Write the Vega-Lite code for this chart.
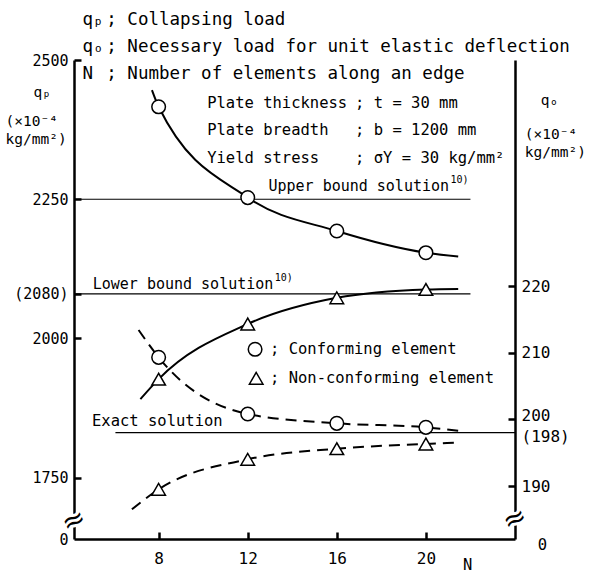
{
  "$schema": "https://vega.github.io/schema/vega-lite/v6.json",
  "width": 441,
  "height": 479,
  "autosize": "none",
  "padding": {"left": 74, "top": 60, "right": 75, "bottom": 35},
  "background": "white",
  "config": {"view": {"stroke": null}, "font": "DejaVu Sans Mono"},
  "datasets": {
    "qp": [
      {"el": "Conforming", "N": 7.7, "v": 2446},
      {"el": "Conforming", "N": 8, "v": 2416},
      {"el": "Conforming", "N": 12, "v": 2253},
      {"el": "Conforming", "N": 16, "v": 2193},
      {"el": "Conforming", "N": 20, "v": 2154},
      {"el": "Conforming", "N": 21.45, "v": 2147},
      {"el": "Non-conforming", "N": 7.18, "v": 1891},
      {"el": "Non-conforming", "N": 8, "v": 1927},
      {"el": "Non-conforming", "N": 12, "v": 2026},
      {"el": "Non-conforming", "N": 16, "v": 2073},
      {"el": "Non-conforming", "N": 20, "v": 2088},
      {"el": "Non-conforming", "N": 21.45, "v": 2089}
    ],
    "qo": [
      {"el": "Conforming", "N": 7.1, "v": 213.4},
      {"el": "Conforming", "N": 8, "v": 209.3},
      {"el": "Conforming", "N": 12, "v": 200.8},
      {"el": "Conforming", "N": 16, "v": 199.4},
      {"el": "Conforming", "N": 20, "v": 198.8},
      {"el": "Conforming", "N": 21.45, "v": 198.3},
      {"el": "Non-conforming", "N": 6.8, "v": 186.5},
      {"el": "Non-conforming", "N": 8, "v": 189.5},
      {"el": "Non-conforming", "N": 12, "v": 194.0},
      {"el": "Non-conforming", "N": 16, "v": 195.6},
      {"el": "Non-conforming", "N": 20, "v": 196.3},
      {"el": "Non-conforming", "N": 21.45, "v": 196.5}
    ],
    "bounds": [
      {"name": "Upper bound solution", "N": 4.2, "N2": 22.0, "v": 2250, "tN": 12.93, "tv": 2273.8},
      {"name": "Lower bound solution", "N": 4.2, "N2": 22.0, "v": 2080, "tN": 5.04, "tv": 2097.3}
    ],
    "exact": [
      {"name": "Exact solution", "N": 6.06, "N2": 24.0, "v": 198}
    ],
    "legend": [
      {"el": "Conforming", "N": 12.33, "v": 1980.6},
      {"el": "Non-conforming", "N": 12.38, "v": 1928.5}
    ],
    "header": [
      {"t": "qₚ", "N": 4.58, "v": 2571.8},
      {"t": "qₒ", "N": 4.58, "v": 2523.3},
      {"t": "N", "N": 4.58, "v": 2474.9},
      {"t": "; Collapsing load", "N": 5.65, "v": 2571.8},
      {"t": "; Necessary load for unit elastic deflection", "N": 5.65, "v": 2523.3},
      {"t": "; Number of elements along an edge", "N": 5.65, "v": 2474.9}
    ],
    "notes": [
      {"t": "Plate thickness", "N": 10.18, "v": 2423.3},
      {"t": "Plate breadth", "N": 10.18, "v": 2374.3},
      {"t": "Yield stress", "N": 10.18, "v": 2323.5},
      {"t": "; t =  30 mm", "N": 16.82, "v": 2423.3},
      {"t": "; b = 1200 mm", "N": 16.82, "v": 2374.3},
      {"t": "; σY =  30 kg/mm²", "N": 16.82, "v": 2323.5},
      {"t": "Exact solution", "N": 5.01, "v": 1851.9},
      {"t": "; Conforming element", "N": 13.0, "v": 1980.6},
      {"t": "; Non-conforming element", "N": 13.0, "v": 1928.5},
      {"t": "N", "N": 21.66, "v": 1594},
      {"t": "0", "N": 25.02, "v": 1629.3}
    ],
    "axisnotes": [
      {"t": "qₚ", "N": 2.38, "v": 2440.8},
      {"t": "(×10⁻⁴", "N": 1.13, "v": 2389.2},
      {"t": "kg/mm²)", "N": 1.13, "v": 2356.4},
      {"t": "qₒ", "N": 25.16, "v": 2426.4},
      {"t": "(×10⁻⁴", "N": 24.44, "v": 2365.4},
      {"t": "kg/mm²)", "N": 24.44, "v": 2333.6}
    ],
    "breaks": [
      {"N": 4.2, "v": 1672},
      {"N": 24.0, "v": 1675}
    ]
  },
  "resolve": {"scale": {"y": "independent"}},
  "layer": [
    {
      "layer": [
        {
          "data": {"name": "bounds"},
          "mark": {"type": "rule", "strokeWidth": 1.2, "color": "black"},
          "encoding": {
            "x": {"field": "N", "type": "quantitative", "scale": {"domain": [4.2, 24], "nice": false, "zero": false},
              "axis": {"values": [8, 12, 16, 20], "format": "d", "tickSize": -7, "tickWidth": 2.5, "tickColor": "black", "domainWidth": 2.5, "domainColor": "black", "labelColor": "black", "labelFont": "DejaVu Sans Mono", "labelFontSize": 16, "labelPadding": 18, "labelFlush": false, "grid": false, "title": null}},
            "x2": {"field": "N2"},
            "y": {"field": "v", "type": "quantitative", "scale": {"domain": [1640, 2500], "nice": false, "zero": false},
              "axis": {"values": [1640, 1750, 2000, 2080, 2250, 2500], "format": "d", "labelExpr": "datum.value==1640?'0':datum.value==2080?'(2080)':datum.label", "tickSize": -7, "tickWidth": 2.5, "tickColor": "black", "domainWidth": 2.5, "domainColor": "black", "labelColor": "black", "labelFont": "DejaVu Sans Mono", "labelFontSize": 15, "labelPadding": 13, "labelOverlap": false, "labelFlush": false, "labelBound": false, "grid": false, "title": null,
                "tickOpacity": {"condition": {"test": "datum.value==1640", "value": 0}, "value": 1}}}
          }
        },
        {
          "data": {"name": "qp"},
          "mark": {"type": "line", "interpolate": "monotone", "strokeWidth": 2, "color": "black"},
          "encoding": {
            "x": {"field": "N", "type": "quantitative"},
            "y": {"field": "v", "type": "quantitative"},
            "detail": {"field": "el"}
          }
        },
        {
          "data": {"name": "qp"},
          "transform": [{"filter": "datum.N==8||datum.N==12||datum.N==16||datum.N==20"}],
          "mark": {"type": "point", "filled": true, "fill": "white", "stroke": "black", "strokeWidth": 1.5, "size": 185, "opacity": 1},
          "encoding": {
            "x": {"field": "N", "type": "quantitative"},
            "y": {"field": "v", "type": "quantitative"},
            "shape": {"field": "el", "type": "nominal", "scale": {"domain": ["Conforming", "Non-conforming"], "range": ["circle", "triangle-up"]}, "legend": null}
          }
        },
        {
          "data": {"name": "legend"},
          "mark": {"type": "point", "filled": true, "fill": "white", "stroke": "black", "strokeWidth": 1.5, "size": 185, "opacity": 1},
          "encoding": {
            "x": {"field": "N", "type": "quantitative"},
            "y": {"field": "v", "type": "quantitative"},
            "shape": {"field": "el", "type": "nominal", "legend": null}
          }
        },
        {
          "data": {"name": "bounds"},
          "mark": {"type": "text", "align": "left", "baseline": "middle", "font": "DejaVu Sans Mono", "fontSize": 15, "color": "black"},
          "encoding": {
            "x": {"field": "tN", "type": "quantitative"},
            "y": {"field": "tv", "type": "quantitative"},
            "text": {"field": "name"}
          }
        },
        {
          "data": {"name": "bounds"},
          "mark": {"type": "text", "align": "left", "baseline": "middle", "font": "DejaVu Sans Mono", "fontSize": 10, "dx": 182, "dy": -6, "color": "black"},
          "encoding": {
            "x": {"field": "tN", "type": "quantitative"},
            "y": {"field": "tv", "type": "quantitative"},
            "text": {"value": "10)"}
          }
        },
        {
          "data": {"name": "header"},
          "mark": {"type": "text", "align": "left", "baseline": "middle", "font": "DejaVu Sans Mono", "fontSize": 17.5, "color": "black"},
          "encoding": {
            "x": {"field": "N", "type": "quantitative"},
            "y": {"field": "v", "type": "quantitative"},
            "text": {"field": "t"}
          }
        },
        {
          "data": {"name": "notes"},
          "mark": {"type": "text", "align": "left", "baseline": "middle", "font": "DejaVu Sans Mono", "fontSize": 15.5, "color": "black"},
          "encoding": {
            "x": {"field": "N", "type": "quantitative"},
            "y": {"field": "v", "type": "quantitative"},
            "text": {"field": "t"}
          }
        },
        {
          "data": {"name": "axisnotes"},
          "mark": {"type": "text", "align": "left", "baseline": "middle", "font": "DejaVu Sans Mono", "fontSize": 14.5, "color": "black"},
          "encoding": {
            "x": {"field": "N", "type": "quantitative"},
            "y": {"field": "v", "type": "quantitative"},
            "text": {"field": "t"}
          }
        },
        {
          "data": {"name": "breaks"},
          "mark": {"type": "text", "align": "center", "baseline": "middle", "font": "DejaVu Sans", "fontSize": 28, "angle": 335, "fill": "white", "stroke": "white", "strokeWidth": 6},
          "encoding": {
            "x": {"field": "N", "type": "quantitative"},
            "y": {"field": "v", "type": "quantitative"},
            "text": {"value": "≈"}
          }
        },
        {
          "data": {"name": "breaks"},
          "mark": {"type": "text", "align": "center", "baseline": "middle", "font": "DejaVu Sans", "fontSize": 28, "angle": 335, "fill": "black"},
          "encoding": {
            "x": {"field": "N", "type": "quantitative"},
            "y": {"field": "v", "type": "quantitative"},
            "text": {"value": "≈"}
          }
        }
      ]
    },
    {
      "layer": [
        {
          "data": {"name": "exact"},
          "mark": {"type": "rule", "strokeWidth": 1.2, "color": "black"},
          "encoding": {
            "x": {"field": "N", "type": "quantitative"},
            "x2": {"field": "N2"},
            "y": {"field": "v", "type": "quantitative", "scale": {"domain": [182.05, 253.9], "nice": false, "zero": false},
              "axis": {"orient": "right", "values": [190, 198, 200, 210, 220], "format": "d", "labelExpr": "datum.value==198?'(198)':datum.label", "tickSize": -7, "tickWidth": 2.5, "tickColor": "black", "domainWidth": 2.5, "domainColor": "black", "labelColor": "black", "labelFont": "DejaVu Sans Mono", "labelFontSize": 16, "labelPadding": 13, "labelOverlap": false, "labelFlush": false, "labelBound": false, "grid": false, "title": null,
                "labelOffset": {"condition": [{"test": "datum.value==200", "value": -4}, {"test": "datum.value==198", "value": 4}], "value": 0},
                "tickOpacity": {"condition": {"test": "datum.value==198", "value": 0}, "value": 1}}}
          }
        },
        {
          "data": {"name": "qo"},
          "mark": {"type": "line", "interpolate": "monotone", "strokeWidth": 2, "color": "black", "strokeDash": [11, 7]},
          "encoding": {
            "x": {"field": "N", "type": "quantitative"},
            "y": {"field": "v", "type": "quantitative"},
            "detail": {"field": "el"}
          }
        },
        {
          "data": {"name": "qo"},
          "transform": [{"filter": "datum.N==8||datum.N==12||datum.N==16||datum.N==20"}],
          "mark": {"type": "point", "filled": true, "fill": "white", "stroke": "black", "strokeWidth": 1.5, "size": 185, "opacity": 1},
          "encoding": {
            "x": {"field": "N", "type": "quantitative"},
            "y": {"field": "v", "type": "quantitative"},
            "shape": {"field": "el", "type": "nominal", "scale": {"domain": ["Conforming", "Non-conforming"], "range": ["circle", "triangle-up"]}, "legend": null}
          }
        }
      ]
    }
  ]
}
